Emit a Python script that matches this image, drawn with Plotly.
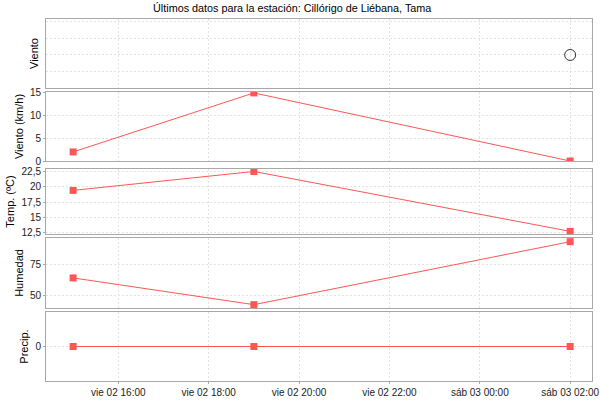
import plotly.graph_objects as go
from plotly.subplots import make_subplots

times = ["2018-11-02 15:00", "2018-11-02 19:00", "2018-11-03 02:00"]
wind_dir = [None, None, 0]
wind_speed = [2, 15, 0]
temp = [19.4, 22.5, 12.7]
humidity = [64.2, 42.4, 93.7]
precip = [0, 0, 0]

tick_times = ["2018-11-02 16:00", "2018-11-02 18:00", "2018-11-02 20:00",
              "2018-11-02 22:00", "2018-11-03 00:00", "2018-11-03 02:00"]
tick_labels = ["vie 02 16:00", "vie 02 18:00", "vie 02 20:00",
               "vie 02 22:00", "sáb 03 00:00", "sáb 03 02:00"]

RED = "#FF5555"
FONT = "Liberation Sans"

fig = make_subplots(rows=5, cols=1, shared_xaxes=True, vertical_spacing=0.01)

fig.add_trace(go.Scatter(x=times, y=wind_dir, mode="markers",
                         marker=dict(symbol="circle-open", size=11, color="#333333",
                                     line=dict(width=1))), row=1, col=1)
series = [wind_speed, temp, humidity, precip]
for i, vals in enumerate(series, start=2):
    fig.add_trace(go.Scatter(x=times, y=vals, mode="lines+markers",
                             line=dict(color=RED, width=1),
                             marker=dict(symbol="square", size=7, color=RED)),
                  row=i, col=1)

# panel placement (pixels -> paper fractions)
domains = [(0.8094, 1.0), (0.6077, 0.7983), (0.4061, 0.5856),
           (0.2017, 0.3950), (0.0, 0.1906)]
titles = ["Viento", "Viento (km/h)", "Temp. (ºC)", "Humedad", "Precip."]
ranges = [[-2, 2.18], [0, 15.2], [12.27, 22.9], [39.7, 96.7], [-1, 1]]
tickvals = [[-1, 0, 1, 2], [0, 5, 10, 15], [12.5, 15, 17.5, 20, 22.5],
            [50, 75], [0]]
ticktext = [None, ["0", "5", "10", "15"],
            ["12,5", "15", "17,5", "20", "22,5"], ["50", "75"], ["0"]]

axis_style = dict(showline=True, mirror=True, linecolor="#a8a8a8", linewidth=1,
                  showgrid=True, gridcolor="#e2e2e2", griddash="2px,2px", gridwidth=1,
                  zeroline=False, automargin=False,
                  tickfont=dict(size=10, color="#222222", family=FONT))

for i in range(5):
    n = "" if i == 0 else str(i + 1)
    yax = dict(axis_style, domain=list(domains[i]), range=ranges[i],
               tickvals=tickvals[i],
               title=dict(text=titles[i], font=dict(size=11, color="black", family=FONT),
                          standoff=4))
    if i == 0:
        yax.update(showticklabels=False, ticks="")
    else:
        yax.update(ticktext=ticktext[i], ticks="outside", ticklen=2, tickcolor="#a8a8a8")
    fig.layout["yaxis" + n] = yax
    xax = dict(axis_style, range=["2018-11-02 14:24", "2018-11-03 02:29"],
               tickvals=tick_times, ticktext=tick_labels)
    if i == 4:
        xax.update(ticks="outside", ticklen=2, tickcolor="#a8a8a8")
    else:
        xax.update(showticklabels=False, ticks="")
    fig.layout["xaxis" + n].update(xax)

fig.update_layout(
    width=600, height=400,
    margin=dict(l=46, r=8, t=19, b=19),
    paper_bgcolor="white", plot_bgcolor="white",
    showlegend=False,
    title=dict(text="Últimos datos para la estación: Cillórigo de Liébana, Tama",
               x=0.487, xanchor="center", y=0.988, yanchor="top",
               font=dict(size=10.8, color="black", family=FONT)),
)

# page body has a default 8px margin; drop it so the chart sits at 0,0
fig.write_html("out.html", config={"displayModeBar": False},
               post_script="document.body.style.margin='0px';")
